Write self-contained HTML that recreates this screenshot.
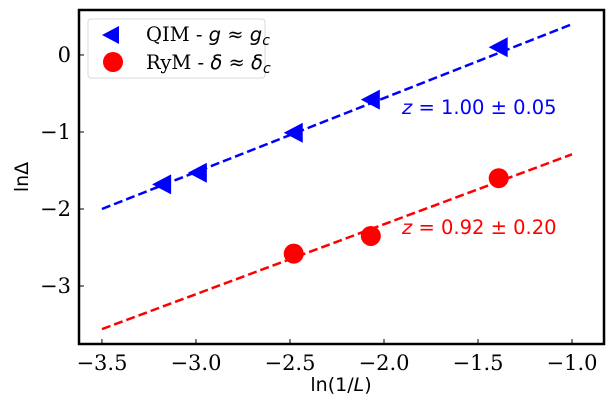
<!DOCTYPE html>
<html><head><meta charset="utf-8"><style>
body{margin:0;background:#fff;}
</style></head><body>
<svg id="chart" width="612" height="412" xmlns="http://www.w3.org/2000/svg"></svg>
<script>
const xTicks=[-3.5,-3.0,-2.5,-2.0,-1.5,-1.0];
const yTicks=[0,-1,-2,-3];
const qimX=[-3.18,-2.99,-2.48,-2.07,-1.39];
const qimY=[-1.68,-1.53,-1.01,-0.58,0.10];
const rymX=[-2.48,-2.07,-1.39];
const rymY=[-2.58,-2.35,-1.60];
const fitX=[-3.5,-1.0];
const qimFitY=[-2.0,0.40];
const rymFitY=[-3.56,-1.29];
const L=79,R=604,T=10,B=344;
const x0=-3.622,x1=-0.83,y0=-3.753,y1=0.584;
const sx=v=>L+(v-x0)/(x1-x0)*(R-L);
const sy=v=>B-(v-y0)/(y1-y0)*(B-T);
const svg=document.getElementById('chart');
const NS='http://www.w3.org/2000/svg';
function mk(tag,attrs,parent){const e=document.createElementNS(NS,tag);for(const k in attrs)e.setAttribute(k,attrs[k]);(parent||svg).appendChild(e);return e;}
let e=mk('line',{x1:sx(fitX[0]),y1:sy(qimFitY[0]),x2:sx(fitX[1]),y2:sy(qimFitY[1]),stroke:'#0000ff','stroke-width':2.5,'stroke-dasharray':'9,4'});


e=mk('line',{x1:sx(fitX[0]),y1:sy(rymFitY[0]),x2:sx(fitX[1]),y2:sy(rymFitY[1]),stroke:'#ff0000','stroke-width':2.5,'stroke-dasharray':'9,4'});


qimX.forEach((v,i)=>{const cx=sx(v),cy=sy(qimY[i]);
 const p=mk('polygon',{points:`${cx-10},${cy} ${cx+9},${cy-10} ${cx+9},${cy+10}`,fill:'#0000ff'});
 
 });
rymX.forEach((v,i)=>{
 const c=mk('circle',{cx:sx(v),cy:sy(rymY[i]),r:10,fill:'#ff0000'});
 
 });
e=mk('rect',{x:L,y:T,width:R-L,height:B-T,fill:'none',stroke:'#000','stroke-width':2.5});


xTicks.forEach(v=>{const x=sx(v);
 mk('line',{x1:x,y1:B,x2:x,y2:B-5,stroke:'#000','stroke-width':1});
 const t=mk('text',{x:x,y:B+26,'font-size':21,'text-anchor':'middle',style:'font-family:"DejaVu Serif","Liberation Serif",serif'});t.textContent=(v<0?'\u2212':'')+Math.abs(v).toFixed(1);
 
 });
yTicks.forEach(v=>{const y=sy(v);
 mk('line',{x1:L,y1:y,x2:L+5,y2:y,stroke:'#000','stroke-width':1});
 const t=mk('text',{x:L-8,y:y+7,'font-size':21,'text-anchor':'end',style:'font-family:"DejaVu Serif","Liberation Serif",serif'});t.textContent=(v<0?'\u2212':'')+Math.abs(v);
 
 });
</script>
<svg style="position:absolute;left:0;top:0" width="612" height="412" xmlns="http://www.w3.org/2000/svg">
<text x="341" y="391" font-size="19" text-anchor="middle" style="font-family:'DejaVu Sans',sans-serif">ln(1/<tspan font-style="italic">L</tspan>)</text>
<text transform="translate(28,177) rotate(-90)" font-size="19" text-anchor="middle" style="font-family:'DejaVu Sans',sans-serif">lnΔ</text>
<text x="402" y="114" font-size="19.5" fill="#0000ff" style="font-family:'DejaVu Sans',sans-serif"><tspan font-style="italic">z</tspan> = 1.00 ± 0.05</text>
<text x="402" y="234" font-size="19.5" fill="#ff0000" style="font-family:'DejaVu Sans',sans-serif"><tspan font-style="italic">z</tspan> = 0.92 ± 0.20</text>
<g>
<rect x="88" y="19" width="177" height="59" rx="3" fill="#fff" stroke="#d8d8d8" stroke-width="1"/>
<polygon points="102,35 119,26 119,44" fill="#0000ff"/>
<circle cx="113" cy="62" r="10" fill="#ff0000"/>
<text x="146" y="41" font-size="19.5" style="font-family:'DejaVu Serif','Liberation Serif',serif">QIM - <tspan font-style="italic" style="font-family:'DejaVu Sans',sans-serif">g</tspan> ≈ <tspan font-style="italic" style="font-family:'DejaVu Sans',sans-serif">g</tspan><tspan font-style="italic" font-size="14" dy="4" style="font-family:'DejaVu Sans',sans-serif">c</tspan></text>
<text x="146" y="69" font-size="19.5" style="font-family:'DejaVu Serif','Liberation Serif',serif">RyM - <tspan font-style="italic" style="font-family:'DejaVu Sans',sans-serif">δ</tspan> ≈ <tspan font-style="italic" style="font-family:'DejaVu Sans',sans-serif">δ</tspan><tspan font-style="italic" font-size="14" dy="4" style="font-family:'DejaVu Sans',sans-serif">c</tspan></text>
</g>
</svg>
</body></html>
